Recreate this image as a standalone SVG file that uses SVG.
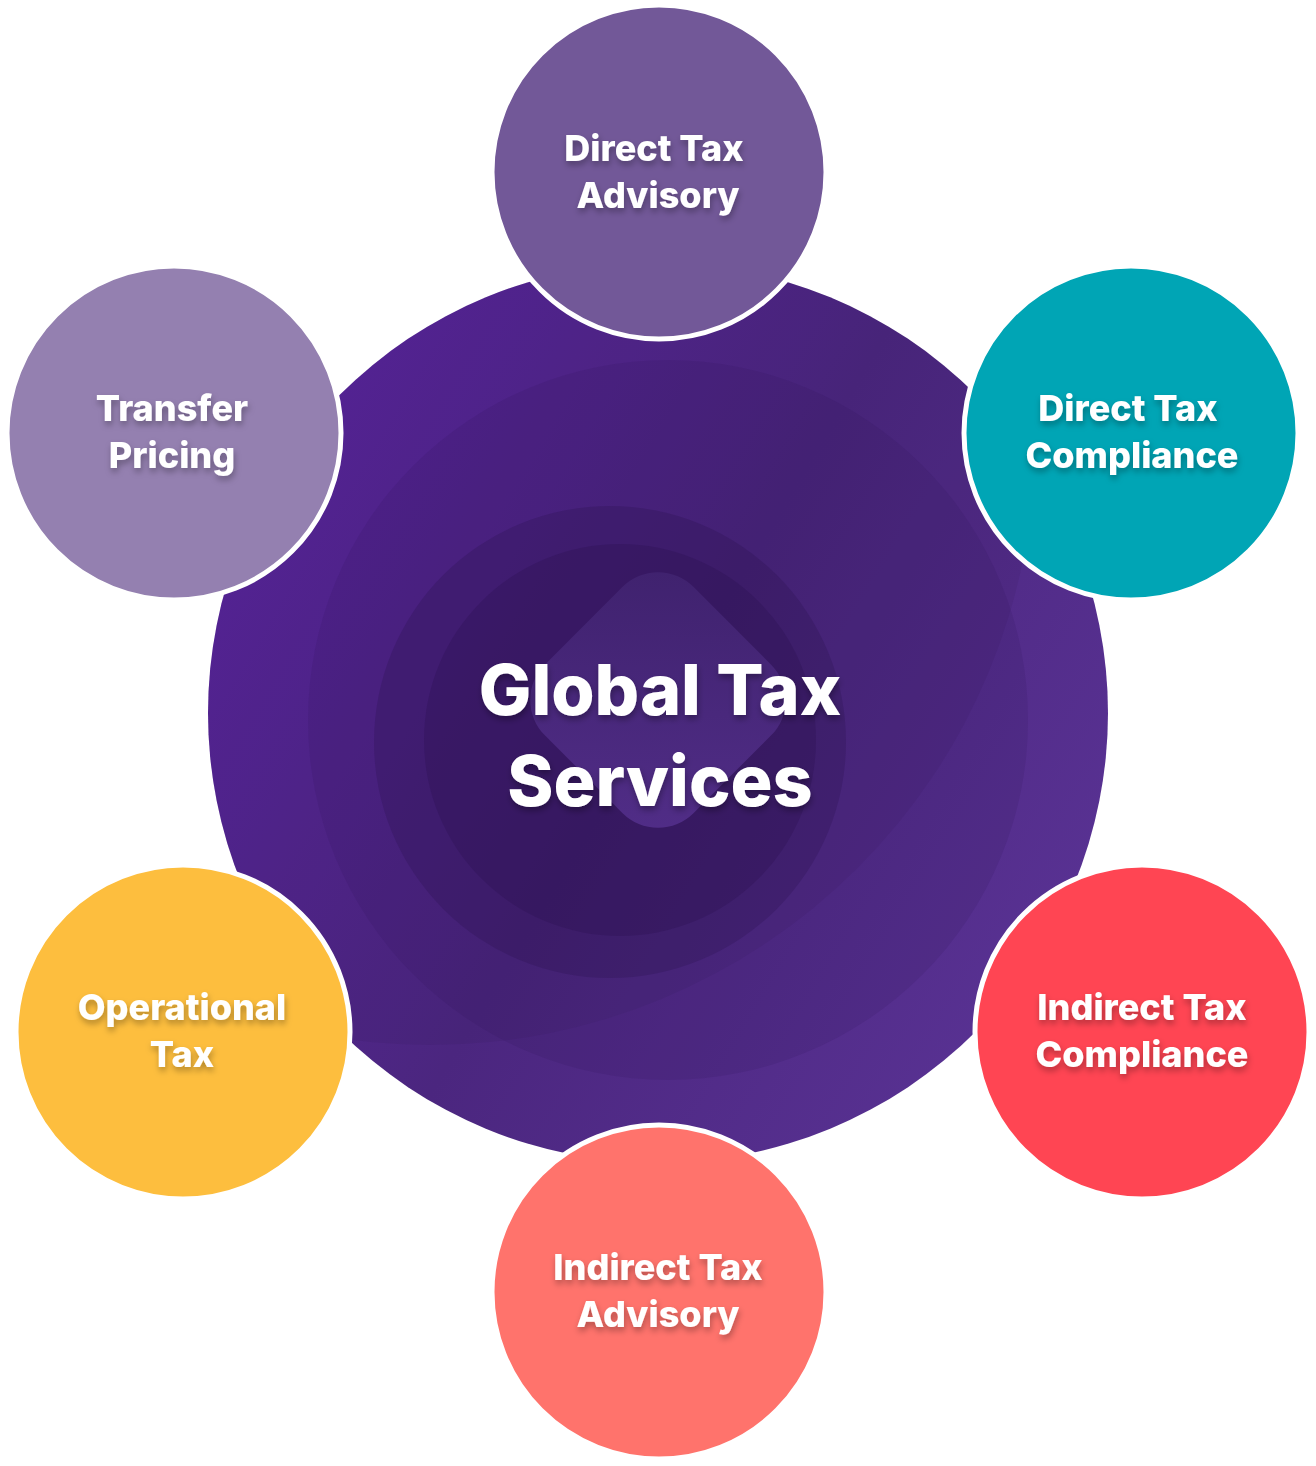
<svg xmlns="http://www.w3.org/2000/svg" width="1316" height="1466" viewBox="0 0 1316 1466">
<style>
.sat{stroke:#ffffff;stroke-width:5}
.lbl{font-family:Inter,"Open Sans","Liberation Sans",sans-serif;font-weight:800;font-size:36px;fill:#ffffff;text-anchor:middle;filter:url(#ts)}
.big{font-family:Inter,"Open Sans","Liberation Sans",sans-serif;font-weight:800;font-size:70px;fill:#ffffff;text-anchor:middle;filter:url(#ts)}
</style>
<defs>
<filter id="ts" x="-20%" y="-30%" width="140%" height="170%">
<feDropShadow dx="1" dy="4" stdDeviation="3" flood-color="#000000" flood-opacity="0.3"/>
</filter>
<clipPath id="clipMain"><circle cx="658" cy="713" r="450"/></clipPath>
<linearGradient id="gMain" x1="0" y1="0.2" x2="1" y2="0.8">
<stop offset="0" stop-color="#5A24A0"/>
<stop offset="0.5" stop-color="#4B267F"/>
<stop offset="1" stop-color="#5A3395"/>
</linearGradient>
<linearGradient id="gDiamond" x1="0" y1="0" x2="1" y2="1">
<stop offset="0" stop-color="#40236F"/>
<stop offset="1" stop-color="#56318F"/>
</linearGradient>
</defs>
<rect width="1316" height="1466" fill="#ffffff"/>
<g id="center">
<circle cx="658" cy="713" r="450" fill="url(#gMain)"/>
<g clip-path="url(#clipMain)">
<circle cx="430" cy="440" r="605" fill="#2E1656" fill-opacity="0.12"/>
<circle cx="668" cy="720" r="360" fill="#2E1656" fill-opacity="0.15"/>
<circle cx="610" cy="742" r="236" fill="#2A1250" fill-opacity="0.28"/>
<circle cx="620" cy="740" r="196" fill="#2A1250" fill-opacity="0.3"/>
<rect x="553" y="595" width="210" height="210" rx="50" fill="url(#gDiamond)" fill-opacity="0.85" transform="rotate(45 658 700)"/>
</g>
<text class="big" x="660" y="715">Global Tax</text>
<text class="big" x="660" y="806">Services</text>
</g>
<g id="direct-tax-advisory">
<circle class="sat" cx="659" cy="172" r="167" fill="#725898"/>
<text class="lbl" x="654" y="161">Direct Tax</text>
<text class="lbl" x="658" y="208">Advisory</text>
</g>
<g id="direct-tax-compliance">
<circle class="sat" cx="1131" cy="433" r="167" fill="#00A5B5"/>
<text class="lbl" x="1128" y="421">Direct Tax</text>
<text class="lbl" x="1132" y="468">Compliance</text>
</g>
<g id="transfer-pricing">
<circle class="sat" cx="174" cy="433" r="167" fill="#9480B0"/>
<text class="lbl" x="172" y="421">Transfer</text>
<text class="lbl" x="172" y="468">Pricing</text>
</g>
<g id="operational-tax">
<circle class="sat" cx="183" cy="1032" r="167" fill="#FDBE3E"/>
<text class="lbl" x="182" y="1020">Operational</text>
<text class="lbl" x="182" y="1067">Tax</text>
</g>
<g id="indirect-tax-compliance">
<circle class="sat" cx="1142" cy="1032" r="167" fill="#FF4553"/>
<text class="lbl" x="1142" y="1020">Indirect Tax</text>
<text class="lbl" x="1142" y="1067">Compliance</text>
</g>
<g id="indirect-tax-advisory">
<circle class="sat" cx="659" cy="1292" r="167" fill="#FF736C"/>
<text class="lbl" x="658" y="1280">Indirect Tax</text>
<text class="lbl" x="658" y="1327">Advisory</text>
</g>
<g id="connectors"/>
</svg>
